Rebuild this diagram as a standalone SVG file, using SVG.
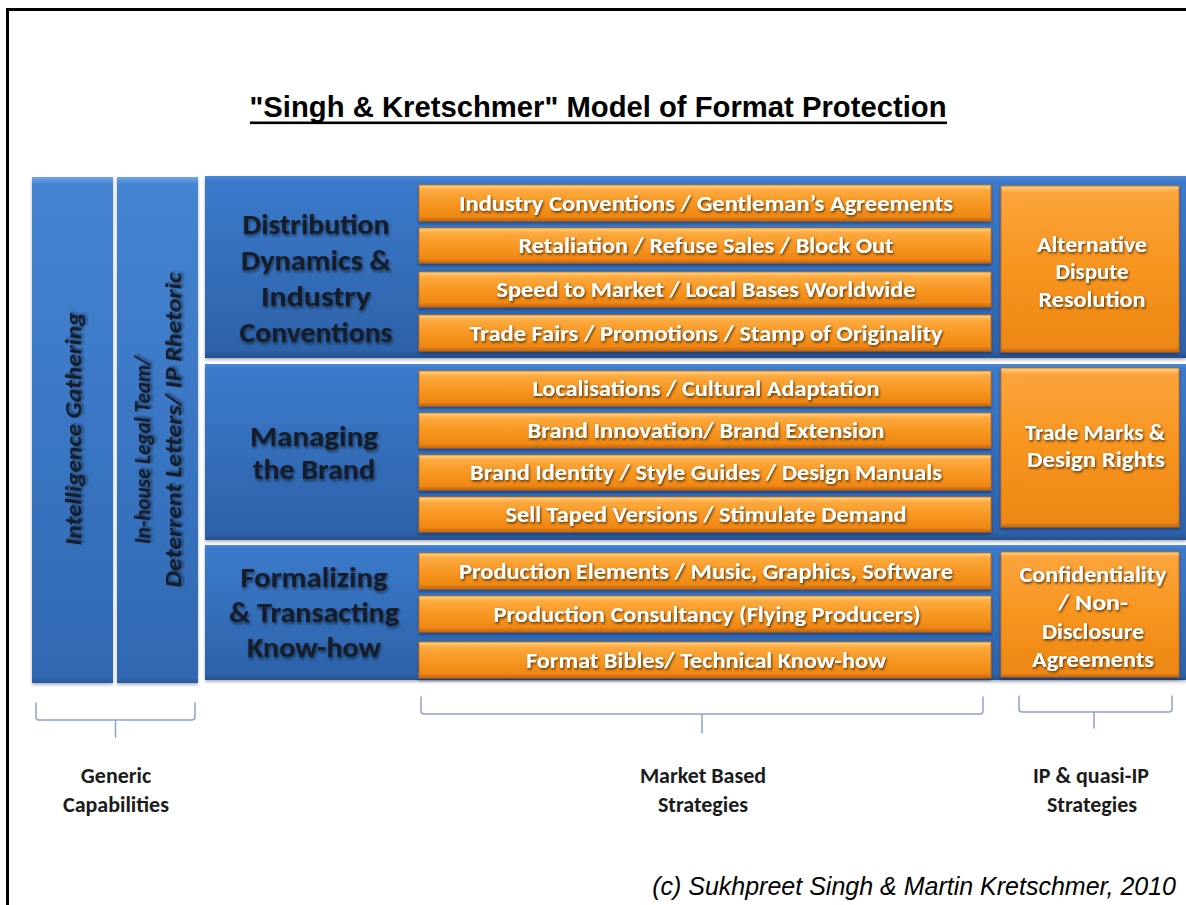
<svg xmlns="http://www.w3.org/2000/svg" width="1186" height="905" viewBox="0 0 1186 905">
<defs>
  <linearGradient id="gRow" x1="0" y1="0" x2="0" y2="1">
    <stop offset="0" stop-color="#4a88d6"/>
    <stop offset="0.03" stop-color="#3c7acb"/>
    <stop offset="0.96" stop-color="#2d62a9"/>
    <stop offset="1" stop-color="#264f8a"/>
  </linearGradient>
  <linearGradient id="gCol" x1="0" y1="0" x2="0" y2="1">
    <stop offset="0" stop-color="#6ea6e8"/>
    <stop offset="0.015" stop-color="#4584d2"/>
    <stop offset="0.5" stop-color="#3a76c4"/>
    <stop offset="0.99" stop-color="#3068b2"/>
    <stop offset="1" stop-color="#2a5a9a"/>
  </linearGradient>
  <linearGradient id="gBar" x1="0" y1="0" x2="0" y2="1">
    <stop offset="0" stop-color="#ffd686"/>
    <stop offset="0.14" stop-color="#fcaa40"/>
    <stop offset="0.55" stop-color="#f7951f"/>
    <stop offset="0.88" stop-color="#ee8713"/>
    <stop offset="1" stop-color="#c4660c"/>
  </linearGradient>
  <linearGradient id="gBox" x1="0" y1="0" x2="0" y2="1">
    <stop offset="0" stop-color="#ffd283"/>
    <stop offset="0.04" stop-color="#fba43c"/>
    <stop offset="0.5" stop-color="#f7941e"/>
    <stop offset="0.97" stop-color="#ed8714"/>
    <stop offset="1" stop-color="#c4660c"/>
  </linearGradient>
  <filter id="fPanel" x="-5%" y="-5%" width="110%" height="115%">
    <feDropShadow dx="0" dy="2" stdDeviation="1.5" flood-color="#1a2a40" flood-opacity="0.35"/>
  </filter>
  <filter id="fBar" x="-2%" y="-20%" width="104%" height="150%">
    <feDropShadow dx="0" dy="2" stdDeviation="1.2" flood-color="#10213d" flood-opacity="0.55"/>
  </filter>
  <filter id="tWhite" x="-5%" y="-30%" width="110%" height="160%">
    <feDropShadow dx="1" dy="1.5" stdDeviation="1" flood-color="#3a1a00" flood-opacity="0.85"/>
  </filter>
  <filter id="tDark" x="-5%" y="-30%" width="110%" height="160%">
    <feDropShadow dx="1" dy="2" stdDeviation="1.6" flood-color="#000814" flood-opacity="0.6"/>
  </filter>
</defs>
<style>
  .col { fill: url(#gCol); filter: url(#fPanel); }
  .row { fill: url(#gRow); filter: url(#fPanel); }
  .bar { fill: url(#gBar); stroke: #c86a0e; stroke-width: 0.8; filter: url(#fBar); }
  .box { fill: url(#gBox); stroke: #c86a0e; stroke-width: 0.8; filter: url(#fBar); }
  .bt { font-family: Carlito, Lato, "Open Sans", sans-serif; font-weight: 700; font-size: 22px; fill: #ffffff; text-anchor: middle; filter: url(#tWhite); }
  .xt { font-family: Carlito, Lato, "Open Sans", sans-serif; font-weight: 700; font-size: 23px; fill: #ffffff; text-anchor: middle; filter: url(#tWhite); }
  .rt { font-family: Carlito, Lato, "Open Sans", sans-serif; font-weight: 700; font-size: 28px; fill: #141b2c; text-anchor: middle; filter: url(#tDark); }
  .vt { font-family: Carlito, Lato, "Open Sans", sans-serif; font-weight: 700; font-style: italic; font-size: 22px; fill: #141b2c; text-anchor: middle; filter: url(#tDark); }
  .lb { font-family: Carlito, Lato, "Open Sans", sans-serif; font-weight: 700; font-size: 22px; fill: #1c1c1c; text-anchor: middle; }
  .br { fill: none; stroke: #8fa3c8; stroke-width: 1.5; stroke-linecap: round; stroke-linejoin: round; }
</style>
<rect x="0" y="0" width="1186" height="905" fill="#ffffff"/>
<path d="M7.5,905 V9.5 H1186" fill="none" stroke="#000" stroke-width="3"/>

<g id="title">
  <text x="598" y="117" font-family="'Liberation Sans', Arial, sans-serif" font-weight="700" font-size="29" text-anchor="middle" fill="#000" textLength="697" lengthAdjust="spacingAndGlyphs">"Singh &amp; Kretschmer" Model of Format Protection</text>
  <rect x="250" y="121.5" width="697" height="2.6" fill="#000"/>
</g>

<g id="intelligence-gathering">
  <rect class="col" x="32" y="177" width="81" height="506"/>
  <text class="vt" transform="translate(81,429) rotate(-90)" textLength="233" lengthAdjust="spacingAndGlyphs">Intelligence Gathering</text>
</g>
<g id="in-house-legal">
  <rect class="col" x="117" y="177" width="81" height="506"/>
  <text class="vt" transform="translate(150,450) rotate(-90)" textLength="188" lengthAdjust="spacingAndGlyphs">In-house Legal Team/</text>
  <text class="vt" transform="translate(181,430) rotate(-90)" textLength="315" lengthAdjust="spacingAndGlyphs">Deterrent Letters/ IP Rhetoric</text>
</g>

<g id="row-distribution">
  <rect class="row" x="205" y="176" width="981" height="182"/>
  <text class="rt" x="316" y="234" textLength="147" lengthAdjust="spacingAndGlyphs">Distribution</text>
  <text class="rt" x="316" y="270" textLength="150" lengthAdjust="spacingAndGlyphs">Dynamics &amp;</text>
  <text class="rt" x="316" y="306" textLength="110" lengthAdjust="spacingAndGlyphs">Industry</text>
  <text class="rt" x="316" y="342" textLength="153" lengthAdjust="spacingAndGlyphs">Conventions</text>
</g>
<g id="row-brand">
  <rect class="row" x="205" y="364" width="981" height="176"/>
  <text class="rt" x="314" y="446" textLength="128" lengthAdjust="spacingAndGlyphs">Managing</text>
  <text class="rt" x="314" y="479" textLength="122" lengthAdjust="spacingAndGlyphs">the Brand</text>
</g>
<g id="row-knowhow">
  <rect class="row" x="205" y="545" width="981" height="135"/>
  <text class="rt" x="314" y="587" textLength="147" lengthAdjust="spacingAndGlyphs">Formalizing</text>
  <text class="rt" x="314" y="622" textLength="170" lengthAdjust="spacingAndGlyphs">&amp; Transacting</text>
  <text class="rt" x="314" y="657" textLength="134" lengthAdjust="spacingAndGlyphs">Know-how</text>
</g>

<g id="bar-1-1"><rect class="bar" x="419" y="185" width="572" height="36"/><text class="bt" x="706" y="211" textLength="494" lengthAdjust="spacingAndGlyphs">Industry Conventions / Gentleman’s Agreements</text></g>
<g id="bar-1-2"><rect class="bar" x="419" y="228" width="572" height="35"/><text class="bt" x="706" y="253" textLength="375" lengthAdjust="spacingAndGlyphs">Retaliation / Refuse Sales / Block Out</text></g>
<g id="bar-1-3"><rect class="bar" x="419" y="272" width="572" height="35"/><text class="bt" x="706" y="297" textLength="419" lengthAdjust="spacingAndGlyphs">Speed to Market / Local Bases Worldwide</text></g>
<g id="bar-1-4"><rect class="bar" x="419" y="315" width="572" height="36"/><text class="bt" x="706" y="341" textLength="473" lengthAdjust="spacingAndGlyphs">Trade Fairs / Promotions / Stamp of Originality</text></g>

<g id="bar-2-1"><rect class="bar" x="419" y="371" width="572" height="35"/><text class="bt" x="706" y="396" textLength="347" lengthAdjust="spacingAndGlyphs">Localisations / Cultural Adaptation</text></g>
<g id="bar-2-2"><rect class="bar" x="419" y="413" width="572" height="35"/><text class="bt" x="706" y="438" textLength="357" lengthAdjust="spacingAndGlyphs">Brand Innovation/ Brand Extension</text></g>
<g id="bar-2-3"><rect class="bar" x="419" y="455" width="572" height="35"/><text class="bt" x="706" y="480" textLength="472" lengthAdjust="spacingAndGlyphs">Brand Identity / Style Guides / Design Manuals</text></g>
<g id="bar-2-4"><rect class="bar" x="419" y="497" width="572" height="35"/><text class="bt" x="706" y="522" textLength="401" lengthAdjust="spacingAndGlyphs">Sell Taped Versions / Stimulate Demand</text></g>

<g id="bar-3-1"><rect class="bar" x="419" y="553" width="572" height="36"/><text class="bt" x="706" y="579" textLength="494" lengthAdjust="spacingAndGlyphs">Production Elements / Music, Graphics, Software</text></g>
<g id="bar-3-2"><rect class="bar" x="419" y="596" width="572" height="36"/><text class="bt" x="707" y="622" textLength="427" lengthAdjust="spacingAndGlyphs">Production Consultancy (Flying Producers)</text></g>
<g id="bar-3-3"><rect class="bar" x="419" y="642" width="572" height="36"/><text class="bt" x="706" y="668" textLength="360" lengthAdjust="spacingAndGlyphs">Format Bibles/ Technical Know-how</text></g>

<g id="box-adr">
  <rect class="box" x="1001" y="186" width="178" height="166"/>
  <text class="xt" x="1092" y="252" textLength="110" lengthAdjust="spacingAndGlyphs">Alternative</text>
  <text class="xt" x="1092" y="279" textLength="73" lengthAdjust="spacingAndGlyphs">Dispute</text>
  <text class="xt" x="1092" y="307" textLength="107" lengthAdjust="spacingAndGlyphs">Resolution</text>
</g>
<g id="box-trademarks">
  <rect class="box" x="1001" y="368" width="178" height="159"/>
  <text class="xt" x="1095" y="440" textLength="140" lengthAdjust="spacingAndGlyphs">Trade Marks &amp;</text>
  <text class="xt" x="1096" y="467" textLength="138" lengthAdjust="spacingAndGlyphs">Design Rights</text>
</g>
<g id="box-confidentiality">
  <rect class="box" x="1001" y="552" width="178" height="125"/>
  <text class="xt" x="1093" y="582" textLength="147" lengthAdjust="spacingAndGlyphs">Confidentiality</text>
  <text class="xt" x="1093" y="610" textLength="70" lengthAdjust="spacingAndGlyphs">/ Non-</text>
  <text class="xt" x="1093" y="639" textLength="102" lengthAdjust="spacingAndGlyphs">Disclosure</text>
  <text class="xt" x="1093" y="667" textLength="122" lengthAdjust="spacingAndGlyphs">Agreements</text>
</g>

<g id="connectors">
  <path class="br" d="M36,703 V717 Q36,720 39,720 H192 Q195,720 195,717 V703 M115.5,720 V737"/>
  <path class="br" d="M421,697 V711 Q421,714 424,714 H980 Q983,714 983,711 V697 M702,714 V733"/>
  <path class="br" d="M1019,696 V709 Q1019,712 1022,712 H1169 Q1172,712 1172,709 V696 M1094,712 V728"/>
</g>

<g id="label-generic">
  <text class="lb" x="116" y="783">Generic</text>
  <text class="lb" x="116" y="812">Capabilities</text>
</g>
<g id="label-market">
  <text class="lb" x="703" y="783">Market Based</text>
  <text class="lb" x="703" y="812">Strategies</text>
</g>
<g id="label-ip">
  <text class="lb" x="1091" y="783">IP &amp; quasi-IP</text>
  <text class="lb" x="1092" y="812">Strategies</text>
</g>

<g id="copyright">
  <text x="1176" y="895" font-family="'Liberation Sans', Arial, sans-serif" font-style="italic" font-size="25" text-anchor="end" fill="#000">(c) Sukhpreet Singh &amp; Martin Kretschmer, 2010</text>
</g>
</svg>
